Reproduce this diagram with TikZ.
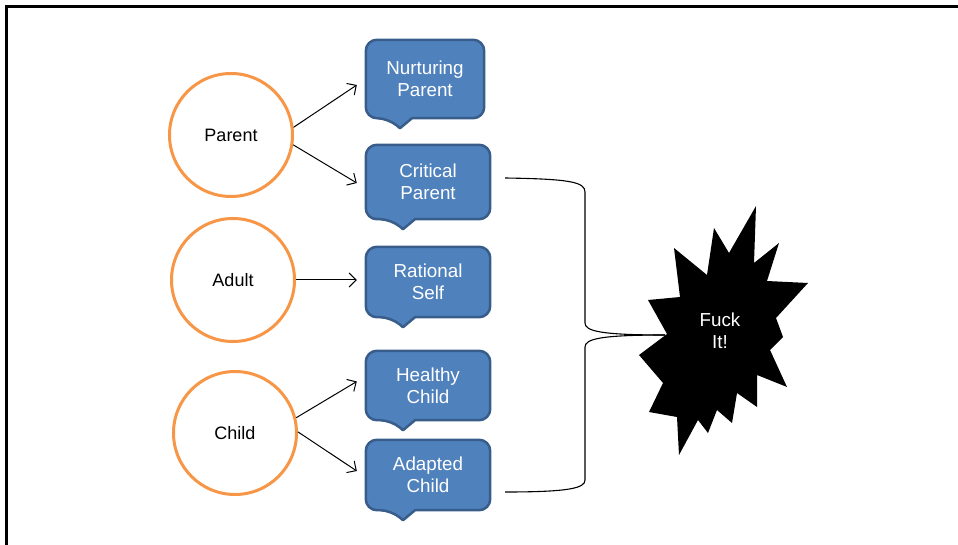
\documentclass[tikz,border=0pt]{standalone}
\usepackage{fontspec}
\setmainfont{Liberation Sans}
\usetikzlibrary{arrows.meta,calc,backgrounds}
\definecolor{cfill}{HTML}{4F81BD}
\definecolor{cline}{HTML}{385D8A}
\definecolor{corange}{HTML}{F79646}
\tikzset{
  cbox/.style={text=white, align=center, font=\fontsize{18.8}{22}\selectfont, inner sep=0pt},
  cshape/.style={fill=cfill, draw=cline, line width=2.5pt, line join=round},
  ring/.style={circle, draw=corange, line width=3pt, minimum size=123pt, inner sep=0pt, font=\fontsize{18}{22}\selectfont},
  conn/.style={line width=1pt, -{Straight Barb[length=7pt,width=14pt]}},
  brace/.style={line width=1.1pt},
  frameline/.style={line width=3.5pt},
}
\newcommand\calloutshape[1]{%
  \draw[cshape] ($(#1.south)+(-25,10)$) -- ($(#1.south)+(-13,0)$)
    [rounded corners=11pt] -- (#1.south east) -- (#1.north east) -- (#1.north west) -- (#1.south west)
    -- ($(#1.south)+(-37,0)$) [sharp corners] -- cycle;}
\begin{document}
\begin{tikzpicture}[x=1pt,y=-1pt]
\useasboundingbox (0,0) rectangle (958,545);
\draw[frameline] (6.5,545) -- (6.5,6.5) -- (958,6.5);

% circles
\node[ring] (pa) at (231,135) {Parent};
\node[ring] (ad) at (233,280) {Adult};
\node[ring] (ch) at (235,433) {Child};

% callouts
\node[cbox, minimum width=118pt, minimum height=78pt] (np) at (425,79) {Nurturing\\Parent};
\node[cbox, minimum width=124pt, minimum height=74pt] (cp) at (428,182) {Critical\\Parent};
\node[cbox, minimum width=124pt, minimum height=70pt] (rs) at (428,282) {Rational\\Self};
\node[cbox, minimum width=124pt, minimum height=69pt] (hc) at (428,385.5) {Healthy\\Child};
\node[cbox, minimum width=124pt, minimum height=70pt] (ac) at (428,475) {Adapted\\Child};
\begin{pgfonlayer}{background}
  \calloutshape{np}
  \calloutshape{cp}
  \calloutshape{rs}
  \calloutshape{hc}
  \calloutshape{ac}
\end{pgfonlayer}

% arrows
\draw[conn] (pa.7) -- ($(np.west)+(-9,6)$);
\draw[conn] (pa.-9) -- ($(cp.west)+(-9,1)$);
\draw[conn] (ad.east) -- ($(ad.east -| rs.west)+(-9,0)$);
\draw[conn] (ch.14) -- ($(hc.west)+(-9,-4)$);
\draw[conn] (ch.1) -- ($(ac.west)+(-9,-4)$);

% starburst
\fill (756,206) -- (754,263) -- (779,243) -- (767,281) -- (808,283) -- (776,318)
  -- (783,337) -- (770,350) -- (787,387) -- (757,375) -- (757,407) -- (737,393)
  -- (732,423) -- (717,410) -- (708,433) -- (698,420) -- (679,455) -- (677,417)
  -- (649,412) -- (663,383) -- (639,355) -- (667,334) -- (648,300) -- (680,297)
  -- (674,248) -- (707,275) -- (714,228) -- (729,253) -- cycle;
\node[cbox] (fi) at (720,331) {Fuck\\It!};

% brace
\coordinate (b1) at ($(cp.east)+(15,-4)$);
\coordinate (b2) at ($(ac.east)+(15,17)$);
\coordinate (bt) at (665,335);
\draw[brace] (b1) .. controls (570,179) and (585,182) .. (585,192) -- (585,323)
  .. controls (585,331) and (600,335) .. (bt);
\draw[brace] (bt) .. controls (600,335) and (585,339) .. (585,347) -- (585,480)
  .. controls (585,488) and (570,492) .. (b2);
\end{tikzpicture}
\end{document}
